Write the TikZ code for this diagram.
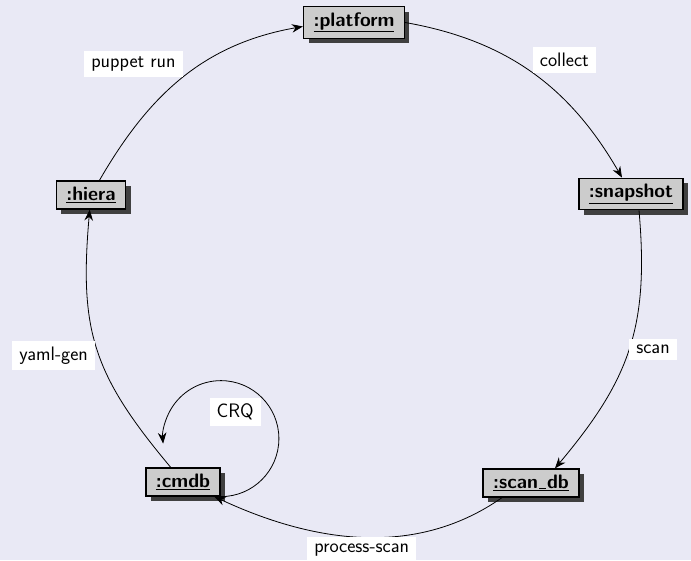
\documentclass[tikz,border=0pt]{standalone}
\usetikzlibrary{arrows.meta,shadows}
\definecolor{canvas}{RGB}{233,233,245}
\definecolor{boxfill}{RGB}{204,204,204}
\definecolor{shadowgray}{RGB}{64,64,64}
% short low rule used as the underscore inside object names
\newcommand{\lowbar}{\kern.05em\rule{.36em}{.9pt}\kern.05em}
\tikzset{
  obj/.style={draw=black, line width=1.5pt, fill=boxfill,
    inner xsep=10pt, inner ysep=6pt,
    font=\fontsize{19.5}{23}\selectfont\sffamily\bfseries,
    drop shadow={shadow xshift=5pt, shadow yshift=-5pt, fill=shadowgray, opacity=1}},
  lbl/.style={fill=white, inner xsep=7pt, inner ysep=6pt,
    font=\fontsize{19.5}{23}\selectfont\sffamily},
  flow/.style={line width=0.8pt, -{Stealth[length=11pt,width=8.5pt]}}
}
\begin{document}
\begin{tikzpicture}[x=1pt,y=1pt]
  \fill[canvas] (0,0) rectangle (691,560);
  \useasboundingbox (0,0) rectangle (691,560);

  % objects of the cycle
  \node[obj] (platform) at (354,537.5) {\underline{:platform}};
  \node[obj] (snapshot) at (631,366)   {\underline{:snapshot}};
  \node[obj] (scandb)   at (531,77)    {\underline{:scan\lowbar db}};
  \node[obj] (cmdb)     at (183,78)    {\underline{:cmdb}};
  \node[obj] (hiera)    at (91,365)    {\underline{:hiera}};

  % cycle of messages
  \draw[flow] (hiera) to[out=60,in=190]
    node[lbl,pos=.5,above left] {puppet run} ([yshift=-4pt]platform.west);
  \draw[flow] (platform.east) to[out=-10,in=120]
    node[lbl,pos=.5,above right] {collect} ([xshift=-9pt]snapshot.north);
  \draw[flow] ([xshift=8pt]snapshot.south) to[out=-85,in=50,looseness=1.1]
    node[lbl,pos=.5,right] {scan} ([xshift=24pt]scandb.north);
  \draw[flow] ([xshift=-29pt]scandb.south) to[out=215,in=-25,looseness=.95]
    node[lbl,pos=.5,below] {process-scan} (cmdb);
  \draw[flow] (cmdb) to[out=130,in=-95,looseness=1.15]
    node[lbl,pos=.47,left,xshift=-4pt] {yaml-gen} (hiera);

  % self loop on cmdb
  \draw[flow] (cmdb.south east) arc[start angle=-90, end angle=185, radius=58];
  \node[lbl, anchor=north east] (crq) at ([shift={(40pt,99pt)}]cmdb.south east) {CRQ};
\end{tikzpicture}
\end{document}
